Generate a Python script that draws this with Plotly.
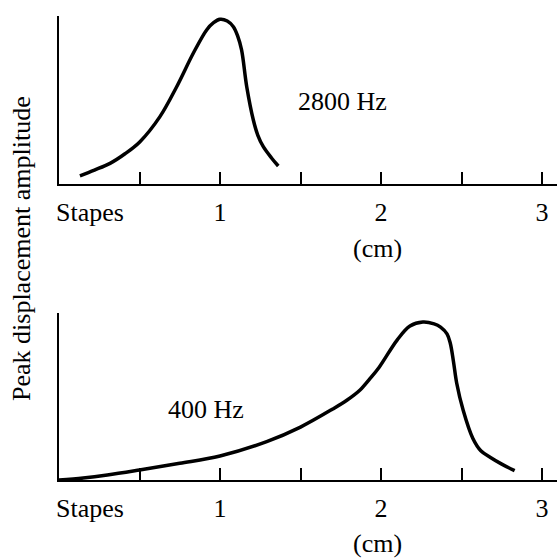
import plotly.graph_objects as go

# ---- data (distance from stapes in cm, normalized peak displacement amplitude)
x_2800 = [0.13, 0.22, 0.317, 0.41, 0.503, 0.627, 0.731, 0.834, 0.917, 0.96, 1.0, 1.045, 1.083, 1.11, 1.134, 1.166, 1.207, 1.235, 1.269, 1.32, 1.362]
y_2800 = [0.049, 0.083, 0.123, 0.18, 0.252, 0.401, 0.579, 0.778, 0.917, 0.96, 0.98, 0.97, 0.936, 0.88, 0.798, 0.579, 0.381, 0.29, 0.222, 0.155, 0.107]

x_400 = [0.0, 0.15, 0.3, 0.5, 0.75, 1.0, 1.29, 1.5, 1.7, 1.79, 1.87, 1.93, 1.99, 2.1, 2.18, 2.26, 2.33, 2.37, 2.41, 2.43, 2.45, 2.47, 2.51, 2.57, 2.62, 2.68, 2.75, 2.83]
y_400 = [0.0, 0.012, 0.03, 0.06, 0.1, 0.144, 0.23, 0.317, 0.425, 0.479, 0.539, 0.605, 0.677, 0.838, 0.922, 0.946, 0.935, 0.916, 0.875, 0.82, 0.71, 0.581, 0.419, 0.25, 0.175, 0.135, 0.095, 0.056]

tick_vals = [0.5, 1, 1.5, 2, 2.5, 3]
tick_text = ["", "1", "", "2", "", "3"]
origin_label = "Stapes"
unit_label = "(cm)"
y_title = "Peak displacement amplitude"
label_top = "2800 Hz"
label_bottom = "400 Hz"

FONT = "Liberation Serif"
FS = 26

fig = go.Figure()
fig.add_trace(go.Scatter(x=x_2800, y=y_2800, mode="lines", line=dict(color="black", width=3.5, shape="spline", smoothing=1.0),
                         xaxis="x", yaxis="y", showlegend=False, hoverinfo="skip"))
fig.add_trace(go.Scatter(x=x_400, y=y_400, mode="lines", line=dict(color="black", width=3.5, shape="spline", smoothing=1.0),
                         xaxis="x2", yaxis="y2", showlegend=False, hoverinfo="skip"))

W, H = 557, 559
x0px = 59
xdom = [x0px / W, 1.0]
top_dom = [1 - 184 / H, 1 - 16 / H]
bot_dom = [1 - 480 / H, 1 - 313 / H]
xr = [0, (W - x0px) / 161.0]

xcommon = dict(range=xr, showline=True, linecolor="black", linewidth=2, ticks="inside", ticklen=12,
               tickwidth=1.5, tickcolor="black", tickvals=tick_vals, ticktext=tick_text, showgrid=False,
               zeroline=False, tickfont=dict(family=FONT, size=FS, color="black"), ticklabelstandoff=4)
ycommon = dict(range=[0, 1], showline=True, linecolor="black", linewidth=2, ticks="", showticklabels=False,
               showgrid=False, zeroline=False)

fig.update_layout(
    width=W, height=H, margin=dict(l=0, r=0, t=0, b=0),
    paper_bgcolor="white", plot_bgcolor="white",
    xaxis=dict(domain=xdom, anchor="y", **xcommon),
    yaxis=dict(domain=top_dom, anchor="x", **ycommon),
    xaxis2=dict(domain=xdom, anchor="y2", **xcommon),
    yaxis2=dict(domain=bot_dom, anchor="x2", **ycommon),
    font=dict(family=FONT, size=FS, color="black"),
)

ann = []
ann.append(dict(x=0.19, y=1 - 212 / H, xref="x", yref="paper", text=origin_label, showarrow=False,
                xanchor="center", yanchor="middle", font=dict(family=FONT, size=FS)))
ann.append(dict(x=0.19, y=1 - 508 / H, xref="x2", yref="paper", text=origin_label, showarrow=False,
                xanchor="center", yanchor="middle", font=dict(family=FONT, size=FS)))
ann.append(dict(x=1.98, y=1 - 248 / H, xref="x", yref="paper", text=unit_label, showarrow=False,
                xanchor="center", yanchor="middle", font=dict(family=FONT, size=FS)))
ann.append(dict(x=1.98, y=1 - 543 / H, xref="x2", yref="paper", text=unit_label, showarrow=False,
                xanchor="center", yanchor="middle", font=dict(family=FONT, size=FS)))
ann.append(dict(x=1.76, y=0.49, xref="x", yref="y", text=label_top, showarrow=False,
                xanchor="center", yanchor="middle", font=dict(family=FONT, size=FS)))
ann.append(dict(x=0.91, y=0.42, xref="x2", yref="y2", text=label_bottom, showarrow=False,
                xanchor="center", yanchor="middle", font=dict(family=FONT, size=FS)))
ann.append(dict(x=22 / W, y=1 - 249 / H, xref="paper", yref="paper", text=y_title, showarrow=False,
                textangle=-90, xanchor="center", yanchor="middle", font=dict(family=FONT, size=FS)))
fig.update_layout(annotations=ann)

fig.write_html("out.html")
